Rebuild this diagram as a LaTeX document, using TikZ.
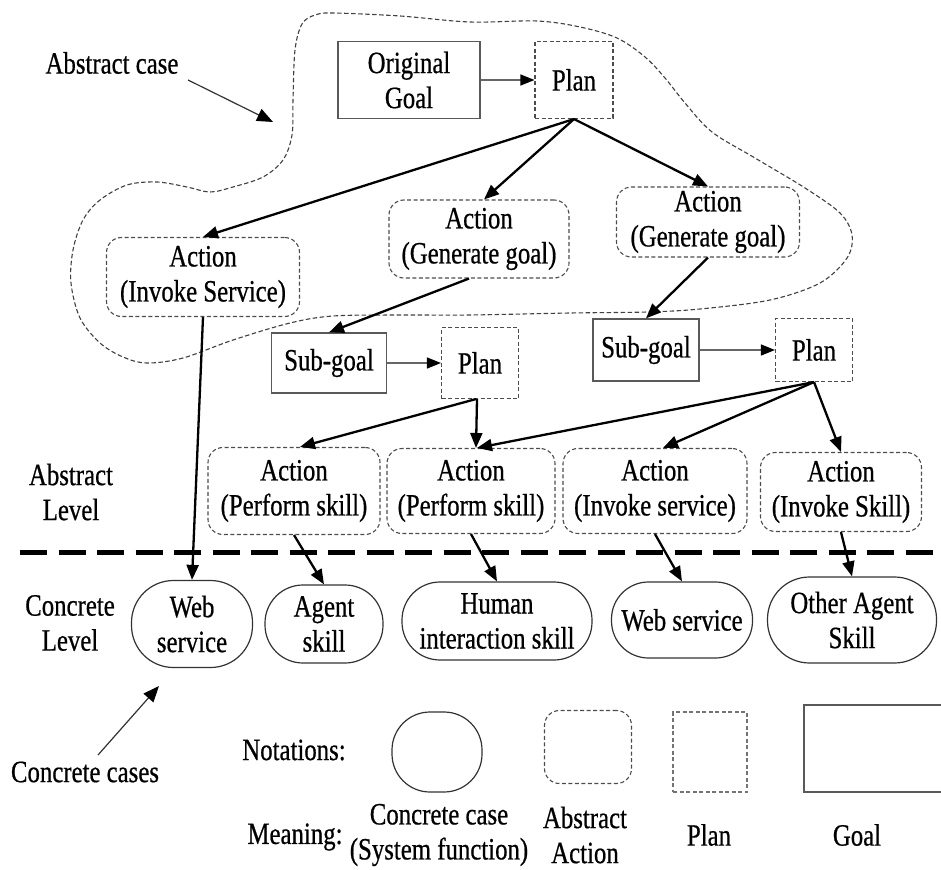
\documentclass[tikz,border=0pt]{standalone}
\usepackage{fontspec}
\setmainfont{Liberation Serif}[FakeStretch=0.8, FakeBold=0.6]
\usetikzlibrary{arrows.meta}
\begin{document}
\begin{tikzpicture}[x=1pt,y=-1pt,
  every node/.style={inner sep=0pt, align=center, font=\fontsize{31}{35}\selectfont},
  goalbox/.style={draw=black!65, line width=1.3pt},
  planbox/.style={draw=black!70, line width=1.1pt, dash pattern=on 4pt off 2.5pt},
  actbox/.style={planbox, rounded corners=15pt},
  concbox/.style={draw=black!80, line width=1.2pt},
  bigarrow/.style={line width=2.3pt, -{Triangle[length=15pt,width=12pt]}},
  thinarrow/.style={draw=black!60, line width=1.3pt, -{Triangle[length=14pt,width=11pt,color=black]}},
  pointer/.style={draw=black!80, line width=1.2pt, -{Triangle[length=16pt,width=13pt,color=black]}},
  blob/.style={draw=black!75, line width=1.1pt, dash pattern=on 4.5pt off 2.5pt}
]
\useasboundingbox (0,0) rectangle (941,869);

% abstract case region
\draw[blob] plot[smooth cycle, tension=0.55] coordinates {
 (333,13) (400,16) (470,22) (537,21) (580,27) (617,38) (645,57) (665,78)
 (685,103) (712,132) (755,158) (805,188) (840,213) (852,235) (847,258)
 (820,283) (770,300) (700,309) (647,312) (570,313) (470,315) (400,315)
 (333,316) (290,323) (233,340) (183,358) (147,363) (123,357) (100,343)
 (80,318) (71,283) (73,250) (83,220) (100,200) (127,185) (157,182)
 (187,187) (210,192) (233,187) (263,177) (283,160) (292,135) (293,100)
 (295,50) (302,24) (315,15)};

% goal/plan nodes
\node[goalbox, minimum width=142pt, minimum height=77pt] (og) at (409,80) {Original\\Goal};
\node[planbox, minimum width=78pt, minimum height=77pt] (p1) at (574,80) {Plan};
\node[actbox, minimum width=193pt, minimum height=79pt] (ivs) at (203,277) {Action\\(Invoke Service)};
\node[actbox, minimum width=180pt, minimum height=78pt] (gg1) at (479,239) {Action\\(Generate goal)};
\node[actbox, minimum width=183pt, minimum height=70pt] (gg2) at (708,222) {Action\\(Generate goal)};
\node[goalbox, minimum width=115pt, minimum height=60pt] (sub1) at (329,363) {Sub-goal};
\node[planbox, minimum width=77pt, minimum height=71pt] (p2) at (480,363) {Plan};
\node[goalbox, minimum width=106pt, minimum height=62pt] (sub2) at (646,350) {Sub-goal};
\node[planbox, minimum width=77pt, minimum height=63pt] (p3) at (814,350) {Plan};
\node[actbox, minimum width=172pt, minimum height=87pt] (ps1) at (294,491) {Action\\(Perform skill)};
\node[actbox, minimum width=168pt, minimum height=85pt] (ps2) at (471,491) {Action\\(Perform skill)};
\node[actbox, minimum width=184pt, minimum height=85pt] (is) at (655,491) {Action\\(Invoke service)};
\node[actbox, minimum width=161pt, minimum height=79pt] (ik) at (841,492) {Action\\(Invoke Skill)};

% concrete nodes
\node[concbox, rounded corners=42pt, minimum width=121pt, minimum height=87pt] (ws1) at (192,624) {Web\\service};
\node[concbox, rounded corners=38pt, minimum width=118pt, minimum height=78pt] (as) at (324,624) {Agent\\skill};
\node[concbox, rounded corners=38pt, minimum width=190pt, minimum height=78pt] (his) at (497,621) {Human\\interaction skill};
\node[concbox, rounded corners=37pt, minimum width=141pt, minimum height=76pt] (ws2) at (682,620) {Web service};
\node[concbox, rounded corners=42pt, minimum width=169pt, minimum height=86pt] (oas) at (852,620) {Other Agent\\Skill};

% level separator
\draw[line width=5pt, dash pattern=on 27pt off 11.5pt] (20,552) -- (941,552);

% labels
\node (actext) at (112,63) {Abstract case};
\node (cctext) at (85,772) {Concrete cases};
\node (alevel) at (71,492) {Abstract\\Level};
\node (clevel) at (70,623) {Concrete\\Level};
\node (notat) at (294,750) {Notations:};
\node (meaning) at (295,837) {Meaning:};

% pointers
\coordinate (acs) at (188,80);
\coordinate (ace) at (273,122);
\draw[pointer] (acs) -- (ace);
\coordinate (ccs) at (98,755);
\coordinate (cce) at (159,686);
\draw[pointer] (ccs) -- (cce);

% connectors
\draw[thinarrow] (og) -- (p1);
\draw[thinarrow] (sub1) -- (p2);
\draw[thinarrow] (sub2) -- (p3);
\draw[bigarrow] (p1.south) -- (ivs.north);
\draw[bigarrow] (p1.south) -- ([xshift=5pt]gg1.north);
\draw[bigarrow] (p1.south) -- (gg2.north);
\draw[bigarrow] ([xshift=-10pt]gg1.south) -- (sub1.north);
\draw[bigarrow] (gg2.south) -- (sub2.north);
\draw[bigarrow] ([xshift=-4pt]p2.south) -- ([xshift=6pt]ps1.north);
\draw[bigarrow] ([xshift=-3pt]p2.south) -- ([xshift=5pt]ps2.north);
\draw[bigarrow] (p3.south) -- ([xshift=6pt]ps2.north);
\draw[bigarrow] (p3.south) -- ([xshift=8pt]is.north);
\draw[bigarrow] (p3.south) -- (ik.north);
\draw[bigarrow] (ivs.south) -- (ws1.north);
\draw[bigarrow] (ps1.south) -- (as.north);
\draw[bigarrow] (ps2.south) -- (his.north);
\draw[bigarrow] (is.south) -- (ws2.north);
\draw[bigarrow] (ik.south) -- (oas.north);

% notation legend
\node[concbox, rounded corners=38pt, minimum width=90pt, minimum height=80pt] (nc) at (437,752) {};
\node[actbox, minimum width=87pt, minimum height=73pt] (na) at (588,747) {};
\node[planbox, draw=black!55, minimum width=74pt, minimum height=80pt] (np) at (710,752) {};
\begin{scope}
\clip (0,0) rectangle (941,869);
\node[goalbox, minimum width=156pt, minimum height=87pt] (ng) at (882,748.5) {};
\end{scope}
\node (m1) at (439,835) {Concrete case\\(System function)};
\node (m2) at (585,835) {Abstract\\Action};
\node (m3) at (709,835) {Plan};
\node (m4) at (857,835) {Goal};
\end{tikzpicture}
\end{document}
